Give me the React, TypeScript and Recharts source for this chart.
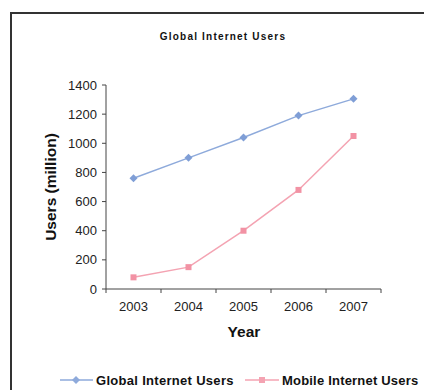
import React from 'react';
import { LineChart, Line, XAxis, YAxis } from 'recharts';

// Internet users worldwide, in millions
const years = ['2003', '2004', '2005', '2006', '2007'];
const globalUsers = [760, 900, 1040, 1190, 1305];
const mobileUsers = [80, 150, 400, 680, 1050];
const userTicks = [0, 200, 400, 600, 800, 1000, 1200, 1400];

const GLOBAL_COLOR = '#8eaadb';
const MOBILE_COLOR = '#f4a3b2';
const FONT = 'Arial, "Liberation Sans", Helvetica, sans-serif';

const data = years.map((year, i) => ({
  year,
  global: globalUsers[i],
  mobile: mobileUsers[i],
}));

const Diamond = ({ cx, cy, fill }: any) => {
  if (cx == null || cy == null) return null;
  const r = 4;
  return <path d={`M${cx},${cy - r}L${cx + r},${cy}L${cx},${cy + r}L${cx - r},${cy}Z`} fill={fill} />;
};

const Square = ({ cx, cy, fill }: any) => {
  if (cx == null || cy == null) return null;
  const s = 6;
  return <rect x={cx - s / 2} y={cy - s / 2} width={s} height={s} fill={fill} />;
};

// category labels with tick marks on the band edges
const YearTick = (props: any) => {
  const { x, y, payload, index, visibleTicksCount } = props;
  const half = payload.offset ?? 0;
  const axisY = y - 13;
  const last = index === visibleTicksCount - 1;
  return (
    <g>
      <line x1={x - half} x2={x - half} y1={axisY} y2={axisY + 4} stroke="#444" />
      {last && <line x1={x + half} x2={x + half} y1={axisY} y2={axisY + 4} stroke="#444" />}
      <text x={x} y={y} dy="0.71em" textAnchor="middle" fontSize={13} fill="#222" fontFamily={FONT}>
        {payload.value}
      </text>
    </g>
  );
};

// title, axis titles and legend drawn on one overlay
const Annotations = () => (
  <svg width={424} height={390} style={{ position: 'absolute', left: 0, top: 0, pointerEvents: 'none' }}>
    <g fontFamily={FONT} fontWeight="bold" fill="#111">
      <text x={223} y={36} dy="0.35em" textAnchor="middle" fontSize={10} letterSpacing={1.2}>
        Global Internet Users
      </text>
      <text x={51} y={187} dy="0.35em" textAnchor="middle" fontSize={15.5} transform="rotate(-90 51 187)">
        Users (million)
      </text>
      <text x={244} y={332} dy="0.35em" textAnchor="middle" fontSize={15.5}>
        Year
      </text>
    </g>
    <line x1={60} x2={93} y1={380} y2={380} stroke={GLOBAL_COLOR} strokeWidth={1.5} />
    <Diamond cx={76} cy={380} fill={GLOBAL_COLOR} />
    <text x={96} y={380} dy="0.35em" fontSize={13} fontWeight="bold" fill="#111" fontFamily={FONT} letterSpacing={0.3}>
      Global Internet Users
    </text>
    <line x1={245} x2={279} y1={380} y2={380} stroke={MOBILE_COLOR} strokeWidth={1.5} />
    <Square cx={262} cy={380} fill={MOBILE_COLOR} />
    <text x={282} y={380} dy="0.35em" fontSize={13} fontWeight="bold" fill="#111" fontFamily={FONT} letterSpacing={0.2}>
      Mobile Internet Users
    </text>
  </svg>
);

export default function App() {
  return (
    <div style={{ position: 'absolute', left: 0, top: 0, width: 424, height: 390, background: '#fff', overflow: 'hidden', fontFamily: FONT }}>
      {/* outer frame, open to the right and bottom */}
      <div style={{ position: 'absolute', left: 10, top: 12, width: 414, height: 378, borderTop: '2px solid #333', borderLeft: '2px solid #333', boxSizing: 'border-box' }} />

      <LineChart
        width={424}
        height={390}
        data={data}
        margin={{ top: 85, right: 43, bottom: 71, left: 56 }}
        style={{ position: 'absolute', left: 0, top: 0 }}
      >
        <XAxis
          dataKey="year"
          scale="band"
          tickSize={0}
          tickMargin={13}
          tick={<YearTick />}
          axisLine={{ stroke: '#444' }}
          height={30}
          interval={0}
        />
        <YAxis
          domain={[0, 1400]}
          ticks={userTicks}
          width={50}
          tickSize={4}
          tickMargin={5}
          tick={{ fontSize: 13, fill: '#222', fontFamily: FONT }}
          tickLine={{ stroke: '#444' }}
          axisLine={{ stroke: '#444' }}
        />
        <Line
          dataKey="global"
          name="Global Internet Users"
          stroke={GLOBAL_COLOR}
          strokeWidth={1.5}
          dot={<Diamond fill="#7f9ed6" />}
          activeDot={false}
          isAnimationActive={false}
        />
        <Line
          dataKey="mobile"
          name="Mobile Internet Users"
          stroke={MOBILE_COLOR}
          strokeWidth={1.5}
          dot={<Square fill="#f292a4" />}
          activeDot={false}
          isAnimationActive={false}
        />
      </LineChart>

      <Annotations />
    </div>
  );
}
